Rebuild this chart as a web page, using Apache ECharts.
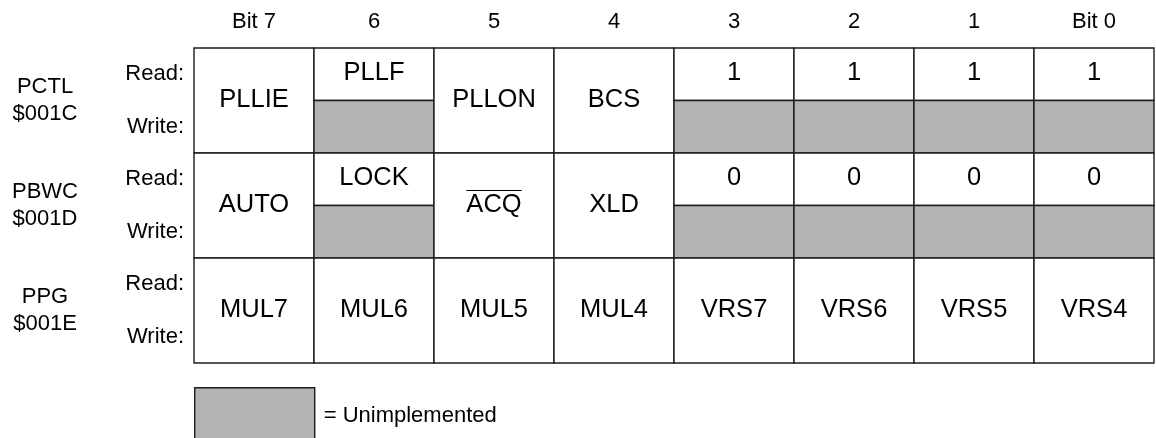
<!DOCTYPE html>
<html>
<head>
<meta charset="utf-8">
<script src="https://cdn.jsdelivr.net/npm/echarts@6/dist/echarts.min.js"></script>
<style>
html,body{margin:0;padding:0;background:#fff;}
#chart{width:1156px;height:438px;}
</style>
</head>
<body>
<div id="chart"></div>
<script>
// ---- data ----
const bitLabels = ['Bit 7', '6', '5', '4', '3', '2', '1', 'Bit 0'];
const registerNames = ['PCTL', 'PBWC', 'PPG'];
const registerAddresses = ['$001C', '$001D', '$001E'];
const accessLabels = ['Read:', 'Write:'];
const pctlFields = ['PLLIE', 'PLLF', 'PLLON', 'BCS', '1', '1', '1', '1'];
const pctlWriteUnimplemented = [0, 1, 0, 0, 1, 1, 1, 1];
const pctlOverline = [0, 0, 0, 0, 0, 0, 0, 0];
const pbwcFields = ['AUTO', 'LOCK', 'ACQ', 'XLD', '0', '0', '0', '0'];
const pbwcWriteUnimplemented = [0, 1, 0, 0, 1, 1, 1, 1];
const pbwcOverline = [0, 0, 1, 0, 0, 0, 0, 0];
const ppgFields = ['MUL7', 'MUL6', 'MUL5', 'MUL4', 'VRS7', 'VRS6', 'VRS5', 'VRS4'];
const ppgWriteUnimplemented = [0, 0, 0, 0, 0, 0, 0, 0];
const ppgOverline = [0, 0, 0, 0, 0, 0, 0, 0];
const legendText = '= Unimplemented';

// ---- build ----
const FONT = 'Liberation Sans, Arial, Helvetica, sans-serif';
const GRAY = '#b3b3b3';
const LINE = '#1c1c1c';
const CELL_FONT = 25.5;

const regs = [
  { fields: pctlFields, unimpl: pctlWriteUnimplemented, over: pctlOverline },
  { fields: pbwcFields, unimpl: pbwcWriteUnimplemented, over: pbwcOverline },
  { fields: ppgFields, unimpl: ppgWriteUnimplemented, over: ppgOverline }
];
const cells = [];
regs.forEach((reg, r) => {
  reg.fields.forEach((name, b) => {
    if (reg.unimpl[b]) {
      cells.push({ b: b, y0: 2 * r, y1: 2 * r + 1, gray: false, label: name, over: reg.over[b] });
      cells.push({ b: b, y0: 2 * r + 1, y1: 2 * r + 2, gray: true, label: '', over: 0 });
    } else {
      cells.push({ b: b, y0: 2 * r, y1: 2 * r + 2, gray: false, label: name, over: reg.over[b] });
    }
  });
});

const accessCats = [];
registerNames.forEach(() => accessLabels.forEach(a => accessCats.push(a)));
const regCats = registerNames.map((n, i) => n + '\n' + registerAddresses[i]);

const measureCtx = document.createElement('canvas').getContext('2d');
measureCtx.font = CELL_FONT + 'px ' + FONT;

function renderItem(params, api) {
  const c = cells[params.dataIndex];
  const p0 = api.coord([api.value(0), api.value(2)]);
  const p1 = api.coord([api.value(1), api.value(3)]);
  const x = Math.min(p0[0], p1[0]), y = Math.min(p0[1], p1[1]);
  const w = Math.abs(p1[0] - p0[0]), h = Math.abs(p1[1] - p0[1]);
  const cx = x + w / 2, cy = y + h / 2;
  const children = [{
    type: 'rect',
    shape: { x: x, y: y, width: w, height: h },
    style: { fill: c.gray ? GRAY : '#ffffff', stroke: LINE, lineWidth: 1.4 }
  }];
  if (c.label) {
    children.push({
      type: 'text',
      style: {
        text: c.label, x: cx, y: cy - 1,
        textAlign: 'center', textVerticalAlign: 'middle',
        fontSize: CELL_FONT, fontFamily: FONT, fill: '#000'
      }
    });
    if (c.over) {
      const tw = measureCtx.measureText(c.label).width;
      children.push({
        type: 'line',
        shape: { x1: cx - tw / 2, y1: cy - 15, x2: cx + tw / 2, y2: cy - 15 },
        style: { stroke: '#000', lineWidth: 1.2 }
      });
    }
  }
  return { type: 'group', children: children };
}

const chart = echarts.init(document.getElementById('chart'));
chart.setOption({
  animation: false,
  backgroundColor: '#ffffff',
  textStyle: { fontFamily: FONT },
  grid: { left: 194, top: 48, width: 960, height: 315 },
  legend: {
    selectedMode: false,
    left: 194, top: 387, padding: 0,
    itemWidth: 120, itemHeight: 56,
    textStyle: { fontSize: 22, color: '#000', fontFamily: FONT, padding: [0, 0, 16, 4] },
    data: [{ name: legendText, icon: 'rect',
      itemStyle: { color: GRAY, borderColor: LINE, borderWidth: 1.4 } }]
  },
  xAxis: [
    { type: 'value', min: 0, max: 8, show: false },
    { type: 'category', position: 'top', data: bitLabels, gridIndex: 0,
      axisLine: { show: false }, axisTick: { show: false }, splitLine: { show: false },
      axisLabel: { fontSize: 22, color: '#000', fontFamily: FONT, margin: 15 } }
  ],
  yAxis: [
    { type: 'value', min: 0, max: 6, inverse: true, show: false },
    { type: 'category', data: accessCats, inverse: true, position: 'left',
      axisLine: { show: false }, axisTick: { show: false }, splitLine: { show: false },
      axisLabel: { fontSize: 22, color: '#000', fontFamily: FONT, margin: 10, align: 'right' } },
    { type: 'category', data: regCats, inverse: true, position: 'left', offset: 0,
      axisLine: { show: false }, axisTick: { show: false }, splitLine: { show: false },
      axisLabel: { fontSize: 22, color: '#000', fontFamily: FONT, margin: 149, align: 'center', lineHeight: 27 } }
  ],
  series: [{
    name: legendText,
    type: 'custom',
    xAxisIndex: 0, yAxisIndex: 0,
    renderItem: renderItem,
    itemStyle: { color: GRAY },
    encode: { x: [0, 1], y: [2, 3] },
    data: cells.map(c => [c.b, c.b + 1, c.y0, c.y1])
  }]
});
</script>
</body>
</html>
